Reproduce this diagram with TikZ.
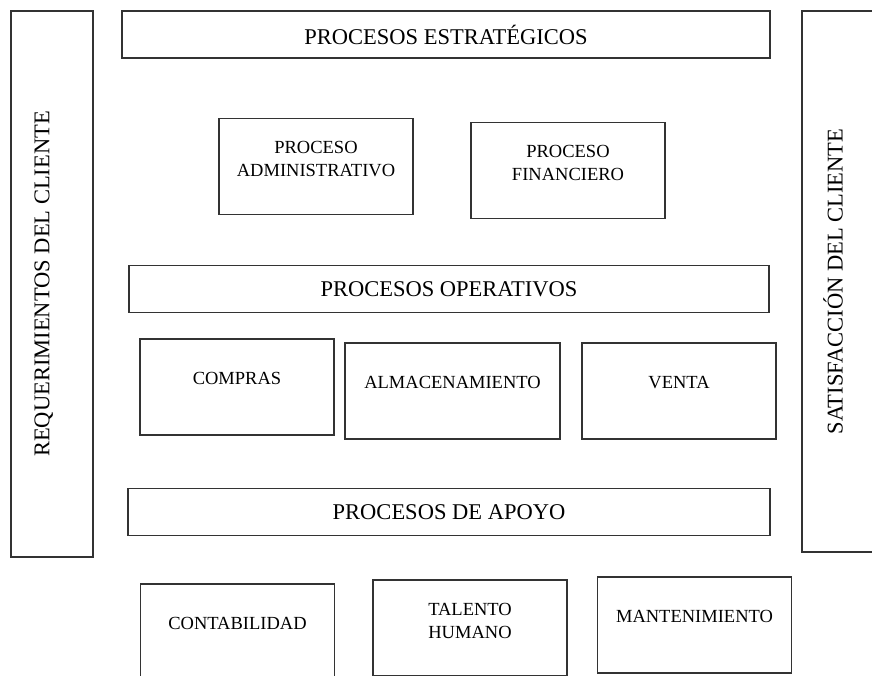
\documentclass[tikz,border=0pt]{standalone}
\usepackage{fontspec}
\setmainfont{Liberation Serif}

\begin{document}
\begin{tikzpicture}[x=1pt, y=-1pt,
        caja/.style = {draw=black!80, line width=1.1pt, minimum width=194pt, minimum height=96pt,
                       align=center, font=\fontsize{18.5}{23}\selectfont, text depth=18pt},
        doble/.style = {text depth=15pt},
        franja/.style = {draw=black!80, line width=1.1pt, minimum height=47pt,
                         font=\fontsize{22.5}{27}\selectfont},
        lado/.style = {draw=black!80, line width=1.1pt, rotate=90, minimum height=82pt,
                       font=\fontsize{22.5}{27}\selectfont, text depth=20pt}]
        \useasboundingbox (0,0) rectangle (872,675);
        \clip (0,0) rectangle (872,675);

        % columnas laterales
        \node[lado, minimum width=546pt](req) at (52,284) {REQUERIMIENTOS DEL CLIENTE};
        \node[lado, minimum width=541pt](sat) at (843,281.5) {SATISFACCIÓN DEL CLIENTE};

        % estrategicos
        \node[franja, minimum width=648pt](estr) at (446,34.5) {PROCESOS ESTRATÉGICOS};
        \node[caja, doble](adm) at (316,166.5) {PROCESO\\ADMINISTRATIVO};
        \node[caja, doble](fin) at (568,170.5) {PROCESO\\FINANCIERO};

        % operativos
        \node[franja, minimum width=640pt](oper) at (449,289) {PROCESOS OPERATIVOS};
        \node[caja](compras) at (237,387) {COMPRAS};
        \node[caja, minimum width=215pt](almac) at (452.5,391) {ALMACENAMIENTO};
        \node[caja](venta) at (679,391) {VENTA};

        % apoyo
        \node[franja, minimum width=642pt](apoyo) at (449,512) {PROCESOS DE APOYO};
        \node[caja](conta) at (237.5,632) {CONTABILIDAD};
        \node[caja, doble](talento) at (470,628) {TALENTO\\HUMANO};
        \node[caja](mant) at (694.5,625) {MANTENIMIENTO};
\end{tikzpicture}
\end{document}
